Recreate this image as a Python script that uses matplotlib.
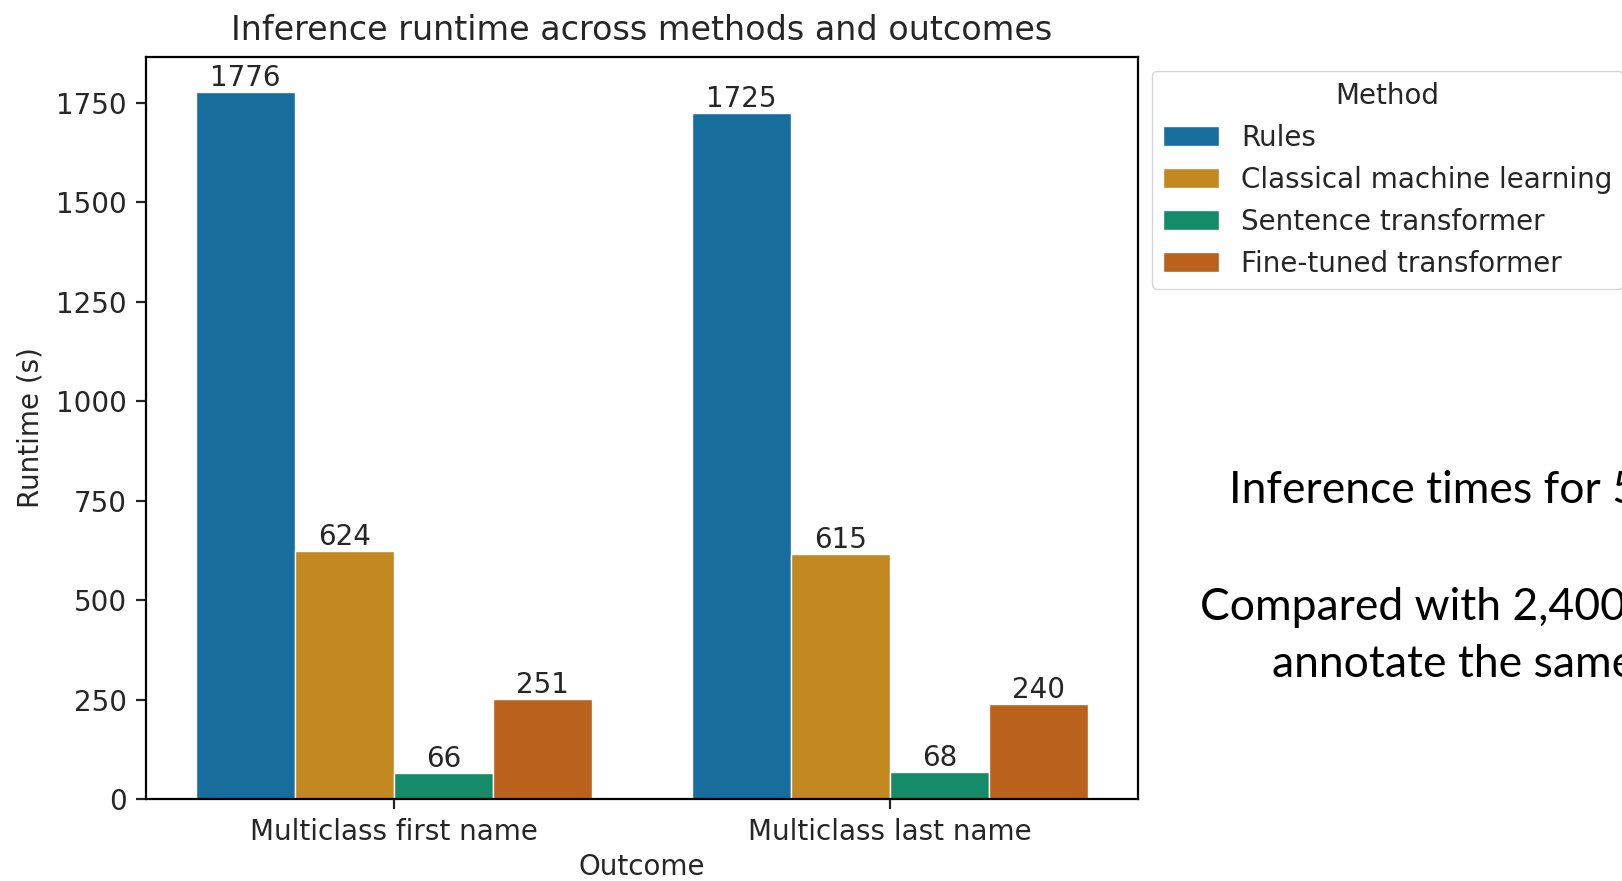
import matplotlib
matplotlib.use("Agg")
import matplotlib.pyplot as plt
import seaborn as sns
import pandas as pd

# data
outcomes = ["Multiclass first name", "Multiclass last name"]
methods = ["Rules", "Classical machine learning", "Sentence transformer", "Fine-tuned transformer"]
runtime_first = [1776, 624, 66, 251]
runtime_last = [1725, 615, 68, 240]

rows = []
for m, a, b in zip(methods, runtime_first, runtime_last):
    rows.append({"Outcome": outcomes[0], "Method": m, "Runtime (s)": a})
    rows.append({"Outcome": outcomes[1], "Method": m, "Runtime (s)": b})
df = pd.DataFrame(rows)

S = 2.0  # the chart was exported at a larger scale than the default
sns.set_style("ticks")
plt.rcParams.update({
    "font.family": ["DejaVu Sans"],
    "font.size": 10 * S,
    "axes.titlesize": 12 * S,
    "axes.labelsize": 10 * S,
    "xtick.labelsize": 10 * S,
    "ytick.labelsize": 10 * S,
    "legend.fontsize": 10 * S,
    "legend.title_fontsize": 10 * S,
    "axes.linewidth": 0.8 * S,
    "xtick.major.width": 0.8 * S,
    "ytick.major.width": 0.8 * S,
    "xtick.major.size": 3.5 * S,
    "ytick.major.size": 3.5 * S,
    "xtick.major.pad": 3.5 * S,
    "ytick.major.pad": 3.5 * S,
    "axes.titlepad": 6 * S,
    "axes.labelpad": 4 * S,
    "text.color": "#262626",
    "axes.labelcolor": "#262626",
    "xtick.color": "#262626",
    "ytick.color": "#262626",
})

W, H = 1622, 881
fig = plt.figure(figsize=(W / 100, H / 100), dpi=100)
ax = fig.add_axes([146 / W, 1 - 799 / H, (1138 - 146) / W, (799 - 57) / H])

sns.barplot(data=df, x="Outcome", y="Runtime (s)", hue="Method",
            hue_order=methods, order=outcomes, palette="colorblind", ax=ax)
for c in ax.containers:
    ax.bar_label(c, fmt="%d", fontsize=10 * S)

ax.set_title("Inference runtime across methods and outcomes")
ax.set_xlabel("Outcome", labelpad=5)
for sp in ax.spines.values():
    sp.set_visible(True)
    sp.set_color("black")

ax.legend(title="Method", loc="upper left", bbox_to_anchor=(1.0, 1.0))

# slide text next to the chart (cut off by the slide edge, as in the source)
slide_font = ["Lato", "DejaVu Sans"]
fs = 32
fig.text(1229 / W, 1 - 503 / H, "Inference times for 5", fontsize=fs,
         family=slide_font, color="black", va="baseline")
fig.text(1200 / W, 1 - 620 / H, "Compared with 2,400", fontsize=fs,
         family=slide_font, color="black", va="baseline")
fig.text(1272 / W, 1 - 677 / H, "annotate the same", fontsize=fs,
         family=slide_font, color="black", va="baseline")

fig.savefig("out.png", dpi=100)
